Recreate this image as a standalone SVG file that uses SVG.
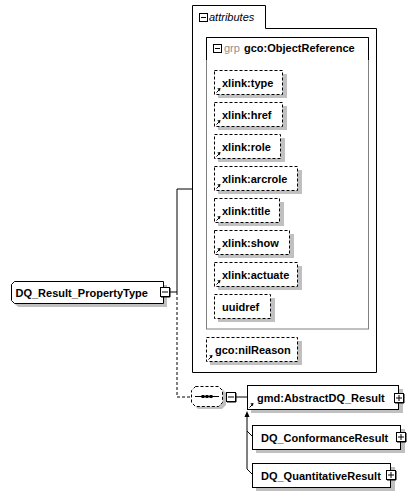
<svg xmlns="http://www.w3.org/2000/svg" xmlns:xlink="http://www.w3.org/1999/xlink" width="418" height="497" viewBox="0 0 418 497">
<style>
text{font-family:"Liberation Sans",Arial,sans-serif;font-size:11px;fill:#000}
.b{font-weight:bold}
.grp{fill:#909090}
.it{font-style:italic}
.box{fill:#fff;stroke:#000;stroke-width:1}
.dash{stroke-dasharray:3,2}
.sh{fill:#c0c0c0;stroke:none}
.ln{fill:none;stroke:#000;stroke-width:1}
.gray{fill:none;stroke:#808080;stroke-width:1}
</style>
<defs>
<g id="refIcon"><path d="M0.5,4.5 L3,2" class="ln"/><polygon points="4.5,0 1.2,0.6 3.9,3.3" fill="#000"/></g>
<g id="minus"><rect x="0.5" y="0.5" width="9" height="9" class="box"/><path d="M10,1 V10 H1" class="ln"/><path d="M2,5 H8" class="ln"/></g>
<g id="plus"><rect x="0.5" y="0.5" width="9" height="9" class="box"/><path d="M10,1 V10 H1" class="ln"/><path d="M2,5 H8 M5,2 V8" class="ln"/></g>
<g id="minusSmall"><rect x="0.5" y="0.5" width="8" height="8" class="box"/><path d="M2,4.5 H7" class="ln"/></g>
</defs>

<g id="connectors">
<path class="ln" d="M170,292 H177 V189 H192.5"/>
<path class="ln dash" d="M177,292 V397 H191"/>
<path class="ln" d="M236,397 H247"/>
<path class="ln" d="M252,474 L247,469 V417 M247,431 L252,436"/>
<polygon points="247,411 244.5,417 249.5,417" fill="#000"/>
</g>

<g id="attributes">
<path class="ln" d="M192.5,5.5 H265.5 V28.5 H376.5 V372.5 H192.5 Z"/>
<use href="#minusSmall" x="199" y="13"/>
<text x="209" y="21" class="it">attributes</text>
</g>

<g id="gco-ObjectReference">
<rect x="206.5" y="37.5" width="162" height="291.5" class="gray"/>
<path class="ln" d="M206.5,60 V37.5 H368.5 V60"/>
<use href="#minusSmall" x="213" y="44"/>
<text x="224" y="52" class="grp">grp</text>
<text x="244" y="52" class="b">gco:ObjectReference</text>
</g>

<g id="xlink-type">
<rect class="sh" x="218" y="74" width="69" height="24"/>
<rect class="box dash" x="214.5" y="70.5" width="68" height="24"/>
<use href="#refIcon" x="216" y="88"/>
<text x="222" y="86.5" class="b">xlink:type</text>
</g>
<g id="xlink-href">
<rect class="sh" x="218" y="106" width="69" height="24"/>
<rect class="box dash" x="214.5" y="102.5" width="68" height="24"/>
<use href="#refIcon" x="216" y="120"/>
<text x="222" y="118.5" class="b">xlink:href</text>
</g>
<g id="xlink-role">
<rect class="sh" x="218" y="138" width="67" height="24"/>
<rect class="box dash" x="214.5" y="134.5" width="66" height="24"/>
<use href="#refIcon" x="216" y="152"/>
<text x="222" y="150.5" class="b">xlink:role</text>
</g>
<g id="xlink-arcrole">
<rect class="sh" x="218" y="170" width="84" height="24"/>
<rect class="box dash" x="214.5" y="166.5" width="83" height="24"/>
<use href="#refIcon" x="216" y="184"/>
<text x="222" y="182.5" class="b">xlink:arcrole</text>
</g>
<g id="xlink-title">
<rect class="sh" x="218" y="202" width="66" height="24"/>
<rect class="box dash" x="214.5" y="198.5" width="65" height="24"/>
<use href="#refIcon" x="216" y="216"/>
<text x="222" y="214.5" class="b">xlink:title</text>
</g>
<g id="xlink-show">
<rect class="sh" x="218" y="234" width="76" height="24"/>
<rect class="box dash" x="214.5" y="230.5" width="75" height="24"/>
<use href="#refIcon" x="216" y="248"/>
<text x="222" y="246.5" class="b">xlink:show</text>
</g>
<g id="xlink-actuate">
<rect class="sh" x="218" y="266" width="84" height="24"/>
<rect class="box dash" x="214.5" y="262.5" width="83" height="24"/>
<use href="#refIcon" x="216" y="280"/>
<text x="222" y="278.5" class="b">xlink:actuate</text>
</g>
<g id="uuidref">
<rect class="sh" x="218" y="298" width="57" height="24"/>
<rect class="box dash" x="214.5" y="294.5" width="56" height="24"/>
<text x="222" y="310.5" class="b">uuidref</text>
</g>

<g id="gco-nilReason">
<rect class="sh" x="210" y="341" width="92" height="24"/>
<rect class="box dash" x="206.5" y="337.5" width="91" height="24"/>
<use href="#refIcon" x="208" y="355"/>
<text x="215" y="353.5" class="b">gco:nilReason</text>
</g>

<g id="DQ_Result_PropertyType">
<path class="sh" d="M18,285 H167 V307 H18 L15,304 V288 Z"/>
<path class="box" d="M14.5,281.5 H163.5 V303.5 H14.5 L11.5,300.5 V284.5 Z"/>
<text x="15.5" y="296.5" class="b">DQ_Result_PropertyType</text>
<use href="#minus" x="160" y="287"/>
</g>

<g id="sequence">
<path class="sh" d="M198,389 H222 L226,393 V405 L222,409 H198 L194,405 V393 Z"/>
<path class="box dash" d="M195.5,386.5 H218.5 L222.5,390.5 V402.5 L218.5,406.5 H195.5 L191.5,402.5 V390.5 Z"/>
<path class="ln" d="M195,396.5 H219"/>
<rect x="201.5" y="395" width="3" height="3" fill="#000"/>
<rect x="205.5" y="395" width="3" height="3" fill="#000"/>
<rect x="209.5" y="395" width="3" height="3" fill="#000"/>
<use href="#minus" x="226" y="392"/>
</g>

<g id="gmd-AbstractDQ_Result">
<rect class="sh" x="251" y="389" width="152" height="24"/>
<rect class="box" x="247.5" y="385.5" width="151" height="24"/>
<use href="#refIcon" x="249" y="403"/>
<text x="257" y="401.5" class="b">gmd:AbstractDQ_Result</text>
<use href="#plus" x="394" y="393"/>
</g>

<g id="DQ_ConformanceResult">
<rect class="sh" x="256" y="429" width="149" height="24"/>
<rect class="box" x="252.5" y="425.5" width="148" height="24"/>
<text x="261" y="441.5" class="b">DQ_ConformanceResult</text>
<use href="#plus" x="396" y="432"/>
</g>

<g id="DQ_QuantitativeResult">
<rect class="sh" x="256" y="467" width="139" height="24"/>
<rect class="box" x="252.5" y="463.5" width="138" height="24"/>
<text x="261" y="479.5" class="b">DQ_QuantitativeResult</text>
<use href="#plus" x="386" y="470"/>
</g>
</svg>
